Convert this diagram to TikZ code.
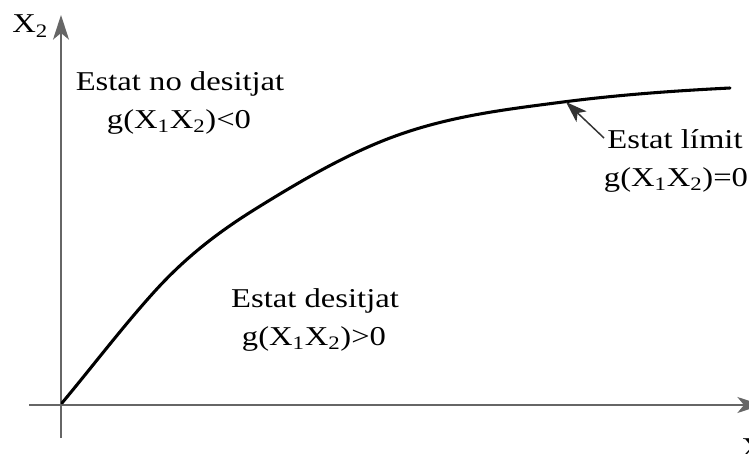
\documentclass[tikz,border=0pt]{standalone}
\usepackage{fontspec}
\setmainfont{Liberation Serif}[FakeStretch=1.2]
\usetikzlibrary{arrows.meta}
\tikzset{
  axis/.style={draw=black!60, line width=1.1pt},
  axtip/.style={-{Stealth[length=18.5pt, width=12pt, inset=5pt]}},
  limit/.style={draw=black, line width=2.3pt, line join=round, line cap=round},
  pointer/.style={draw=black!80, line width=1.1pt, -{Stealth[length=16pt, width=11pt, inset=4pt]}},
  lbl/.style={anchor=base, inner sep=0pt, font=\fontsize{20.4pt}{24pt}\selectfont},
}
\begin{document}
\begin{tikzpicture}[x=0.75pt, y=-0.75pt]
\useasboundingbox (0,0) rectangle (749,453);
\clip (0,0) rectangle (749,453);
% axes
\coordinate (o) at (61,405);
\coordinate (ybot) at (61,438);
\coordinate (ytop) at (61,15);
\coordinate (xleft) at (29,405);
\coordinate (xright) at (762,405);
\draw[axis, axtip] (ybot) -- (ytop);
\draw[axis, axtip] (xleft) -- (xright);
\node[anchor=base west, inner sep=0pt, font=\fontsize{20.4pt}{24pt}\selectfont] (lx2) at (12,33) {X\textsubscript{2}};
\node[anchor=base west, inner sep=0pt, font=\fontsize{20.4pt}{24pt}\selectfont] (lx1) at (741,456) {X\textsubscript{1}};
% limit curve
\coordinate (c0) at (62,403);
\coordinate (c1) at (155,291);
\coordinate (c2) at (257,208);
\coordinate (c3) at (390,138);
\coordinate (c4) at (563,102);
\coordinate (c5) at (730,88);
\draw[limit] (c0) .. controls (93,365.8) and (124,325.1) .. (c1)
                  .. controls (189,253.6) and (223,229.1) .. (c2)
                  .. controls (301.3,180.5) and (345.7,154.8) .. (c3)
                  .. controls (447.7,116.1) and (505.3,109.5) .. (c4)
                  .. controls (618.7,94.8) and (674.3,90.8) .. (c5);
\coordinate (ptip) at (566,102);
\coordinate (pstart) at (604,138);
\draw[pointer] (pstart) -- (ptip);
% labels
\node[lbl] (nd1) at (180,90) {Estat no desitjat};
\node[lbl] (nd2) at (179,128) {g(X\textsubscript{1}X\textsubscript{2})<0};
\node[lbl] (d1) at (315,307) {Estat desitjat};
\node[lbl] (d2) at (314,345) {g(X\textsubscript{1}X\textsubscript{2})>0};
\node[lbl] (l1) at (675,148) {Estat límit};
\node[lbl] (l2) at (676,186) {g(X\textsubscript{1}X\textsubscript{2})=0};
\end{tikzpicture}
\end{document}
